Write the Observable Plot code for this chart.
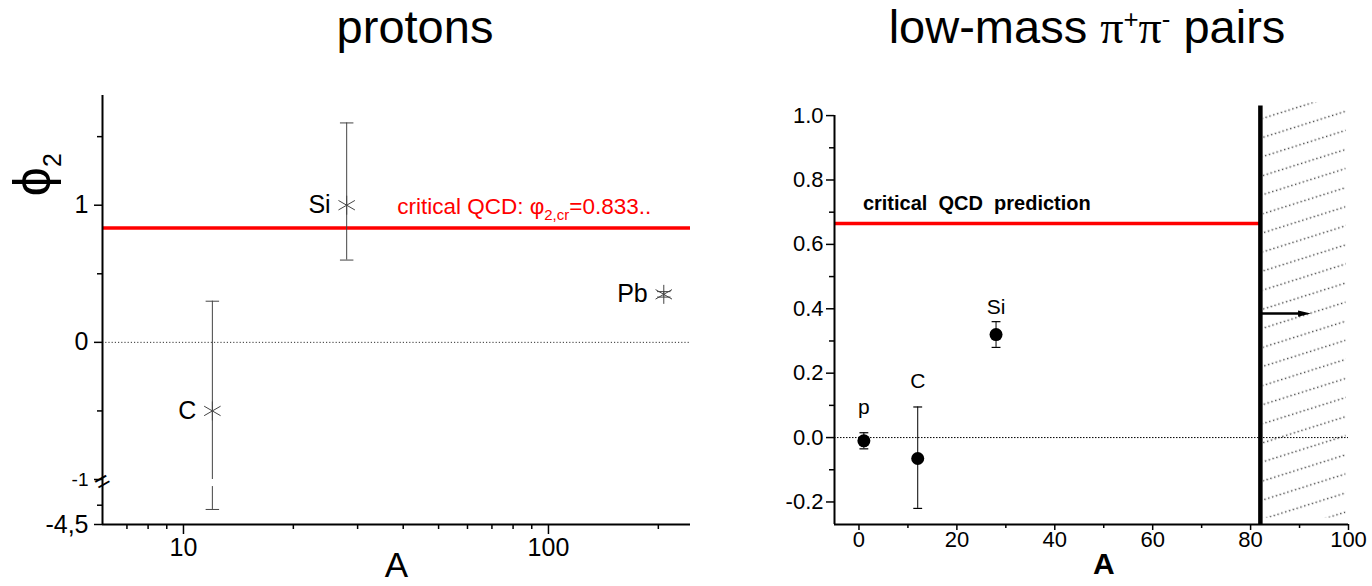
<!DOCTYPE html>
<html><head><meta charset="utf-8">
<script src="https://cdn.jsdelivr.net/npm/d3@7"></script>
<script src="https://cdn.jsdelivr.net/npm/@observablehq/plot@0.6"></script>
<style>
body{margin:0;background:#fff;font-family:"Liberation Sans",Arial,sans-serif;}
#wrap{position:relative;width:1372px;height:586px;overflow:hidden;background:#fff;}
.title{position:absolute;font-size:47px;color:#000;white-space:nowrap;transform:translateX(-50%);line-height:1;z-index:5;}
.title sup{font-size:55%;vertical-align:top;position:relative;top:4px;}
.pi{font-family:"Liberation Serif","DejaVu Serif",serif;font-size:46px;}
.panel{position:absolute;top:0;z-index:1;}
.ylab{position:absolute;font-size:52px;line-height:1;transform:rotate(-90deg);transform-origin:center;white-space:nowrap;z-index:5;}
.ylab sub{font-size:48%;}
</style></head><body>
<div id="wrap">
  <div id="left" class="panel" style="left:0px;"></div>
  <div id="right" class="panel" style="left:700px;"></div>
  <div class="title" style="left:415px;top:3px;">protons</div>
  <div class="title" style="left:1087px;top:3px;">low-mass <span class="pi">π</span><sup>+</sup><span class="pi">π</span><sup>-</sup> pairs</div>
  <div class="ylab" style="left:14px;top:145px;">ϕ<sub>2</sub></div>
</div>
<script>
// ---------- data: left panel (protons) ----------
const leftNuclei = ["C", "Si", "Pb"];
const leftA = [12, 28, 207];
const leftPhi = [-0.5, 1.0, 0.35];
const leftErrLow = [-3.33, 0.6, 0.33];
const leftErrHigh = [0.3, 1.6, 0.37];
const leftCritical = 0.833;
const leftXTicks = [10, 100];
const leftXMinor = [7, 8, 9, 20, 30, 40, 50, 60, 70, 80, 90, 200];
const leftYTicks = [-4.5, -1, 0, 1];
const leftYTickLabels = ["-4,5", "-1", "0", "1"];
const leftYMinor = [-3, -0.5, 0.5, 1.5];
const leftBreak = [-1, -1.55];

// ---------- data: right panel (low-mass pi+pi- pairs) ----------
const rightNuclei = ["p", "C", "Si"];
const rightA = [1, 12, 28];
const rightPhi = [-0.01, -0.065, 0.32];
const rightErrLow = [-0.035, -0.22, 0.28];
const rightErrHigh = [0.015, 0.095, 0.36];
const rightLabelY = [0.095, 0.175, 0.405];
const rightCritical = 0.665;
const rightLimitA = 82;
const rightXTicks = [0, 20, 40, 60, 80, 100];
const rightXMinor = [10, 30, 50, 70, 90];
const rightYTicks = [-0.2, 0, 0.2, 0.4, 0.6, 0.8, 1.0];
const rightYMinor = [-0.1, 0.1, 0.3, 0.5, 0.7, 0.9];

const FONT = "'Liberation Sans', Arial, sans-serif";
const cap = {draw(ctx, size) { const w = Math.sqrt(size); ctx.moveTo(-w, 0); ctx.lineTo(w, 0); }};
const headRight = {draw(ctx, size) { const w = Math.sqrt(size); ctx.moveTo(w, 0); ctx.lineTo(-w, -w * 0.5); ctx.lineTo(-w, w * 0.5); ctx.closePath(); }};

// ----- left -----
const left = leftNuclei.map((n, i) => ({n, A: leftA[i], phi: leftPhi[i], lo: leftErrLow[i], hi: leftErrHigh[i]}));
const leftSegs = [];
left.forEach(d => {
  if (d.lo < leftBreak[0] && d.hi > leftBreak[0]) {
    leftSegs.push({A: d.A, lo: leftBreak[0], hi: d.hi});
    leftSegs.push({A: d.A, lo: d.lo, hi: leftBreak[1]});
  } else leftSegs.push({A: d.A, lo: d.lo, hi: d.hi});
});
const leftCaps = left.flatMap(d => [{A: d.A, y: d.lo}, {A: d.A, y: d.hi}]);
const xL = [6, 245];

const L = Plot.plot({
  width: 720, height: 586, marginLeft: 102, marginRight: 30, marginTop: 95, marginBottom: 62,
  x: {type: "log", domain: xL, axis: null},
  y: {type: "linear", domain: [-4.5, -1, 1.8], range: [524, 479, 95], axis: null},
  style: {fontFamily: FONT, fontSize: "25px", background: "white", overflow: "visible", color: "#000"},
  marks: [
    Plot.ruleY([0], {x1: xL[0], x2: xL[1], stroke: "#333", strokeWidth: 1, strokeDasharray: "1.2,2"}),
    Plot.ruleY([leftCritical], {x1: xL[0], x2: xL[1], stroke: "#ff0000", strokeWidth: 3.5}),
    Plot.ruleX(leftSegs, {x: "A", y1: "lo", y2: "hi", stroke: "#444", strokeWidth: 1}),
    Plot.dot(leftCaps, {x: "A", y: "y", symbol: cap, r: 3.8, stroke: "#444", strokeWidth: 1}),
    Plot.dot(left, {x: "A", y: "phi", symbol: "asterisk", r: 9, stroke: "#444", strokeWidth: 1}),
    Plot.text(left, {x: "A", y: "phi", text: "n", dx: -16, textAnchor: "end", fontSize: 25, fill: "#000"}),
    Plot.text(["critical QCD: φ"], {x: 38.5, y: 0.985, textAnchor: "start", fontSize: 22.5, fill: "#ff0000"}),
    Plot.ruleX([xL[0]], {y1: -4.5, y2: 1.8, stroke: "#000", strokeWidth: 2}),
    Plot.ruleY([-4.5], {x1: xL[0], x2: xL[1], stroke: "#000", strokeWidth: 2}),
    Plot.text(["="], {x: xL[0], y: -1.17, rotate: -30, fontSize: 26, fill: "#000"}),
    Plot.axisY(leftYTicks.filter(d => d !== -1), {tickSize: 8, tickPadding: 6, strokeWidth: 1.5, label: null,
      tickFormat: d => leftYTickLabels[leftYTicks.indexOf(d)]}),
    Plot.axisY([-1], {tickSize: 8, tickPadding: 6, strokeWidth: 1.5, label: null, fontSize: 19,
      tickFormat: d => leftYTickLabels[leftYTicks.indexOf(d)]}),
    Plot.axisY(leftYMinor, {tickSize: 5, strokeWidth: 1.5, label: null, tickFormat: () => ""}),
    Plot.axisX(leftXTicks, {tickSize: 10, tickPadding: 4, strokeWidth: 1.5, label: null, tickFormat: d => String(d)}),
    Plot.axisX(leftXMinor, {tickSize: 5, strokeWidth: 1.5, label: null, tickFormat: () => ""}),
    Plot.text(["A"], {frameAnchor: "bottom", dy: 52, fontSize: 35, fill: "#000"})
  ]
});
L.querySelectorAll("text").forEach(t => {
  if (t.textContent === "critical QCD: φ") {
    t.innerHTML = 'critical QCD: φ<tspan font-size="15" dy="6">2,cr</tspan><tspan dy="-6">=0.833..</tspan>';
  }
});
document.getElementById("left").appendChild(L);

// ----- right -----
const right = rightNuclei.map((n, i) => ({n, A: rightA[i], phi: rightPhi[i], lo: rightErrLow[i], hi: rightErrHigh[i], ly: rightLabelY[i]}));
const rightCaps = right.flatMap(d => [{A: d.A, y: d.lo}, {A: d.A, y: d.hi}]);
const xR = [-5, 100], yR = [-0.27, 1.05];
const arrowTipA = 92;

const R = Plot.plot({
  width: 672, height: 586, marginLeft: 134, marginRight: 24, marginTop: 99, marginBottom: 62,
  x: {domain: xR, axis: null},
  y: {domain: yR, axis: null},
  style: {fontFamily: FONT, fontSize: "22px", background: "white", overflow: "visible", color: "#000"},
  marks: [
    Plot.rect([0], {x1: rightLimitA + 0.6, x2: 99.5, y1: -0.25, y2: 1.04, fill: "url(#hatch)"}),
    Plot.ruleY([0], {x1: xR[0], x2: xR[1], stroke: "#000", strokeWidth: 1, strokeDasharray: "1.5,1.5"}),
    Plot.ruleY([rightCritical], {x1: xR[0], x2: rightLimitA, stroke: "#ff0000", strokeWidth: 3.5}),
    Plot.text(["critical  QCD  prediction"], {x: 0.8, y: 0.728, textAnchor: "start", fontSize: 20, fontWeight: "bold", fill: "#000"}),
    Plot.ruleX([rightLimitA], {y1: yR[0], y2: 1.03, stroke: "#000", strokeWidth: 4.5}),
    Plot.ruleY([0.385], {x1: rightLimitA, x2: arrowTipA - 1.5, stroke: "#000", strokeWidth: 2.5}),
    Plot.dot([0.385], {x: arrowTipA - 1, y: d => d, symbol: headRight, r: 3.6, fill: "#000", stroke: "none"}),
    Plot.ruleX(right, {x: "A", y1: "lo", y2: "hi", stroke: "#000", strokeWidth: 1}),
    Plot.dot(rightCaps, {x: "A", y: "y", symbol: cap, r: 2.5, stroke: "#000", strokeWidth: 1.2}),
    Plot.dot(right, {x: "A", y: "phi", r: 6.5, fill: "#000", stroke: "none"}),
    Plot.text(right, {x: "A", y: "ly", text: "n", fontSize: 21, fill: "#000"}),
    Plot.ruleX([xR[0]], {y1: yR[0], y2: 1.0, stroke: "#000", strokeWidth: 2}),
    Plot.ruleY([yR[0]], {x1: xR[0], x2: xR[1], stroke: "#000", strokeWidth: 2}),
    Plot.axisY(rightYTicks, {tickSize: 8, tickPadding: 3, strokeWidth: 1.5, label: null, tickFormat: d => d.toFixed(1)}),
    Plot.axisY(rightYMinor, {tickSize: 5, strokeWidth: 1.5, label: null, tickFormat: () => ""}),
    Plot.axisX(rightXTicks, {tickSize: 6, tickPadding: 1, strokeWidth: 1.5, label: null, tickFormat: d => String(d)}),
    Plot.axisX(rightXMinor, {tickSize: 4, strokeWidth: 1.5, label: null, tickFormat: () => ""}),
    Plot.text(["A"], {x: 50, y: yR[0], dy: 40, fontSize: 30, fontWeight: "bold", fill: "#000"})
  ]
});
const ns = "http://www.w3.org/2000/svg";
const defs = document.createElementNS(ns, "defs");
defs.innerHTML = '<pattern id="hatch" patternUnits="userSpaceOnUse" width="8" height="18.2" patternTransform="rotate(-17.5)"><line x1="0" y1="9" x2="8" y2="9" stroke="#444" stroke-width="1.4" stroke-dasharray="1.4,2.6"/></pattern>';
R.insertBefore(defs, R.firstChild);
document.getElementById("right").appendChild(R);
</script>
</body></html>
